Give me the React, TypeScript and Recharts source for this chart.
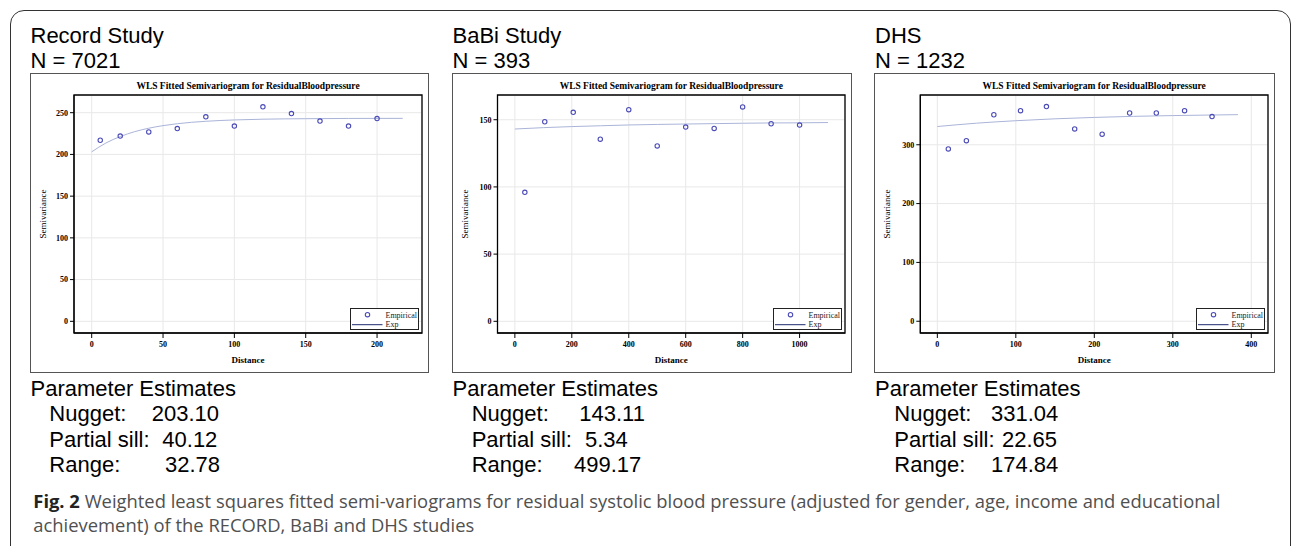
import React from "react";
import {
  ComposedChart,
  Scatter,
  Line,
  XAxis,
  YAxis,
  CartesianGrid,
  ReferenceArea,
} from "recharts";

// Record study: empirical semivariance per distance class and the fitted (exponential) curve
const recordDist = [6, 20, 40, 60, 80, 100, 120, 140, 160, 180, 200];
const recordEmp = [217, 222, 227, 231, 245, 234, 257, 249, 240, 234, 243];
const recordFitDist = [0, 10, 20, 30, 40, 50, 60, 80, 100, 120, 150, 180, 218];
const recordFit = [203.1, 213.7, 221.4, 227.2, 231.4, 234.5, 236.8, 239.7, 241.3, 242.2, 242.8, 243.1, 243.2];
const recordXTicks = [0, 50, 100, 150, 200];
const recordYTicks = [0, 50, 100, 150, 200, 250];

// BaBi study
const babiDist = [35, 105, 205, 300, 400, 500, 600, 700, 800, 900, 1000];
const babiEmp = [96, 148.5, 155.5, 135.5, 157.5, 130.5, 144.5, 143.5, 159.5, 147, 146];
const babiFitDist = [0, 100, 200, 300, 400, 500, 600, 700, 800, 900, 1000, 1100];
const babiFit = [143.1, 144.1, 144.9, 145.5, 146.1, 146.5, 146.8, 147.1, 147.4, 147.6, 147.7, 147.9];
const babiXTicks = [0, 200, 400, 600, 800, 1000];
const babiYTicks = [0, 50, 100, 150];

// DHS
const dhsDist = [14, 37, 72, 106, 139, 175, 210, 245, 279, 315, 350];
const dhsEmp = [293, 307, 351, 358, 365, 327, 318, 354, 354, 358, 348];
const dhsFitDist = [0, 50, 100, 150, 200, 250, 300, 350, 383];
const dhsFit = [331.0, 336.7, 340.9, 344.1, 346.5, 348.3, 349.6, 350.6, 351.2];
const dhsXTicks = [0, 100, 200, 300, 400];
const dhsYTicks = [0, 100, 200, 300];

const studyNames = ["Record Study", "BaBi Study", "DHS"];
const sampleSizes = ["N = 7021", "N = 393", "N = 1232"];
const nuggets = ["203.10", "143.11", "331.04"];
const partialSills = ["40.12", "5.34", "22.65"];
const ranges = ["32.78", "499.17", "174.84"];

const chartTitle = "WLS Fitted Semivariogram for ResidualBloodpressure";
const captionLine1 =
  " Weighted least squares fitted semi-variograms for residual systolic blood pressure (adjusted for gender, age, income and educational";
const captionLine2 = "achievement) of the RECORD, BaBi and DHS studies";

const zip = (xs: number[], ys: number[]) => xs.map((h, i) => ({ h, g: ys[i] }));

const panels = [
  {
    emp: zip(recordDist, recordEmp),
    fit: zip(recordFitDist, recordFit),
    xTicks: recordXTicks,
    yTicks: recordYTicks,
    xDomain: [-12.4, 231.5],
    yDomain: [-14, 271.2],
    left: 30,
    width: 399,
    yAxisW: 44,
    textX: 30.5,
    labelX: 49.3,
    valueX: [151.7, 162.3, 165],
  },
  {
    emp: zip(babiDist, babiEmp),
    fit: zip(babiFitDist, babiFit),
    xTicks: babiXTicks,
    yTicks: babiYTicks,
    xDomain: [-61, 1159.5],
    yDomain: [-8.7, 168.4],
    left: 452,
    width: 400,
    yAxisW: 45.5,
    textX: 452.5,
    labelX: 471.7,
    valueX: [579.3, 585, 574],
  },
  {
    emp: zip(dhsDist, dhsEmp),
    fit: zip(dhsFitDist, dhsFit),
    xTicks: dhsXTicks,
    yTicks: dhsYTicks,
    xDomain: [-21.7, 421.3],
    yDomain: [-20, 384.6],
    left: 874,
    width: 401,
    yAxisW: 46.3,
    textX: 875,
    labelX: 894.3,
    valueX: [991, 1002, 991],
  },
];

const serif = "'Liberation Serif', 'Times New Roman', serif";
const sans = "'Liberation Sans', Arial, sans-serif";
const markerColor = "#4b4bb8";

const OpenCircle = (props: any) => (
  <circle cx={props.cx} cy={props.cy} r={2.2} fill="none" stroke={markerColor} strokeWidth={1.1} />
);

const Panel = ({ p }: { p: (typeof panels)[number] }) => {
  const H = 300;
  const plotLeft = p.yAxisW;
  const plotRight = p.width - 7;
  const plotW = plotRight - plotLeft;
  const plotBottom = H - 40;
  return (
    <div style={{ position: "absolute", left: p.left, top: 73, width: p.width, height: H }}>
      <div
        style={{
          position: "absolute",
          inset: 0,
          border: "1px solid #555",
          boxSizing: "border-box",
        }}
      />
      <div
        style={{
          position: "absolute",
          left: plotLeft,
          top: 8,
          width: plotW,
          textAlign: "center",
          fontFamily: serif,
          fontWeight: "bold",
          fontSize: 9.5,
          lineHeight: "10px",
          whiteSpace: "nowrap",
        }}
      >
        {chartTitle}
      </div>
      <div style={{ position: "absolute", left: 0, top: 0 }}>
        <ComposedChart width={p.width} height={H} margin={{ top: 22, right: 7, bottom: 0, left: 0 }}>
          <CartesianGrid stroke="#e8e8e8" strokeWidth={1} />
          <XAxis
            type="number"
            dataKey="h"
            domain={p.xDomain}
            ticks={p.xTicks}
            allowDataOverflow
            height={40}
            tickSize={5}
            tickMargin={3}
            interval={0}
            tick={{ fontSize: 8, fontFamily: serif, fill: "#000", fontWeight: "bold" }}
            axisLine={{ stroke: "#000" }}
            tickLine={{ stroke: "#000" }}
            label={{
              value: "Distance",
              position: "insideBottom",
              offset: 10,
              style: { fontSize: 9, fontFamily: serif, fill: "#000", fontWeight: "bold" },
            }}
          />
          <YAxis
            type="number"
            dataKey="g"
            domain={p.yDomain}
            ticks={p.yTicks}
            allowDataOverflow
            width={p.yAxisW}
            tickSize={4}
            tickMargin={2}
            interval={0}
            tick={{ fontSize: 8, fontFamily: serif, fill: "#000", fontWeight: "bold" }}
            axisLine={{ stroke: "#000" }}
            tickLine={{ stroke: "#000" }}
            label={{
              value: "Semivariance",
              angle: -90,
              position: "insideLeft",
              offset: 13,
              style: { textAnchor: "middle", fontSize: 9, fontFamily: serif, fill: "#000" },
            }}
          />
          <ReferenceArea
            x1={p.xDomain[0]}
            x2={p.xDomain[1]}
            y1={p.yDomain[0]}
            y2={p.yDomain[1]}
            fill="none"
            stroke="#000"
            strokeWidth={1.3}
          />
          <Line
            data={p.fit}
            dataKey="g"
            type="monotone"
            stroke="#aab4d8"
            strokeWidth={1}
            dot={false}
            activeDot={false}
            isAnimationActive={false}
          />
          <Scatter data={p.emp} dataKey="g" shape={<OpenCircle />} isAnimationActive={false} />
        </ComposedChart>
      </div>
      <div
        style={{
          position: "absolute",
          left: plotRight - 3 - 69,
          top: plotBottom - 3 - 22,
          width: 69,
          height: 22,
        }}
      >
        <svg width={69} height={22} style={{ display: "block" }}>
          <rect x={0.5} y={0.5} width={68} height={21} fill="#fff" stroke="#222" strokeWidth={1} />
          <circle cx={17.5} cy={6.7} r={2.2} fill="none" stroke={markerColor} strokeWidth={1.1} />
          <text x={35.5} y={9.5} fontFamily={serif} fontSize={8} fill="#222">
            Empirical
          </text>
          <line x1={2} x2={32.5} y1={16.7} y2={16.7} stroke="#1f2b6e" strokeWidth={1} />
          <text x={35.5} y={19.3} fontFamily={serif} fontSize={8} fill="#222">
            Exp
          </text>
        </svg>
      </div>
    </div>
  );
};

export default function App() {
  return (
    <div
      style={{
        position: "absolute",
        left: 0,
        top: 0,
        width: 1292,
        height: 546,
        overflow: "hidden",
        background: "#fff",
      }}
    >
      <div
        style={{
          position: "absolute",
          left: 9.5,
          top: 9.5,
          width: 1279,
          height: 700,
          border: "1.5px solid #333",
          borderRadius: 14,
        }}
      />
      {panels.map((p, i) => (
        <Panel key={i} p={p} />
      ))}
      <svg
        width={1292}
        height={546}
        style={{ position: "absolute", left: 0, top: 0, pointerEvents: "none" }}
      >
        {panels.map((p, i) => (
          <g key={i} fontFamily={sans} fontSize={22} fill="#000">
            <text x={p.textX} y={43.3}>{studyNames[i]}</text>
            <text x={p.textX} y={68.3}>{sampleSizes[i]}</text>
            <text x={p.textX} y={396}>Parameter Estimates</text>
            <text x={p.labelX} y={421}>Nugget:</text>
            <text x={p.valueX[0]} y={421}>{nuggets[i]}</text>
            <text x={p.labelX} y={446.5}>Partial sill:</text>
            <text x={p.valueX[1]} y={446.5}>{partialSills[i]}</text>
            <text x={p.labelX} y={472}>Range:</text>
            <text x={p.valueX[2]} y={472}>{ranges[i]}</text>
          </g>
        ))}
        <text
          x={33.3}
          y={508}
          fontFamily="'Open Sans', 'Noto Sans', sans-serif"
          fontSize={17.5}
          fill="#505050"
          textLength={1187}
          lengthAdjust="spacingAndGlyphs"
        >
          <tspan fontWeight="bold" fill="#222">
            Fig. 2
          </tspan>
          {captionLine1}
        </text>
        <text
          x={33.3}
          y={531.7}
          fontFamily="'Open Sans', 'Noto Sans', sans-serif"
          fontSize={17.5}
          fill="#505050"
          textLength={441}
          lengthAdjust="spacingAndGlyphs"
        >
          {captionLine2}
        </text>
      </svg>
    </div>
  );
}
